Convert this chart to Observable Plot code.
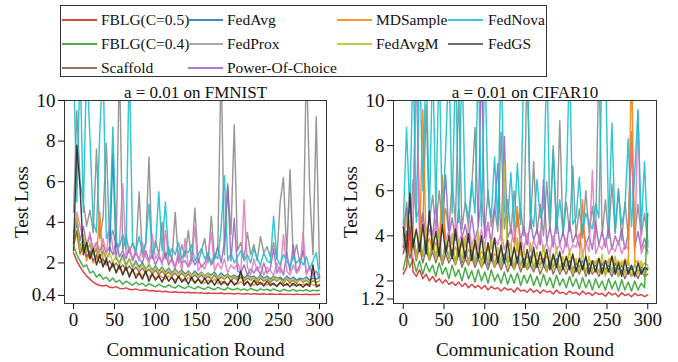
<!DOCTYPE html>
<html>
<head>
<meta charset="utf-8">
<script src="https://cdn.jsdelivr.net/npm/d3@7"></script>
<script src="https://cdn.jsdelivr.net/npm/@observablehq/plot@0.6"></script>
<style>
  html, body { margin: 0; padding: 0; background: #fff; }
  #wrap { position: relative; width: 678px; height: 362px; font-family: "Liberation Serif", "Times New Roman", serif; color: #111; overflow: hidden; }
  #legend { position: absolute; left: 60px; top: 5px; width: 487px; height: 72px; border: 1px solid #333; box-sizing: border-box; }
  .lg-line { position: absolute; height: 1.5px; opacity: 0.85; }
  .lg-text { position: absolute; font-size: 15.5px; line-height: 18px; white-space: nowrap; }
  .panel { position: absolute; top: 85px; }
</style>
</head>
<body>
<div id="wrap">
  <div id="legend"></div>
  <div id="left" class="panel" style="left:0px"></div>
  <div id="right" class="panel" style="left:335px"></div>
</div>
<script>
// ---------------- data ----------------
const rounds = d3.range(0, 301, 4); // communication rounds sampled (76 points)
const xTicks = [0, 50, 100, 150, 200, 250, 300];
const fmYTicks = [0.4, 2, 4, 6, 8, 10];
const cfYTicks = [1.2, 2, 4, 6, 8, 10];

const legendNames = ["FBLG(C=0.5)", "FedAvg", "MDSample", "FedNova",
                     "FBLG(C=0.4)", "FedProx", "FedAvgM", "FedGS",
                     "Scaffold", "Power-Of-Choice"];
const legendColors = ["#d62728", "#1f77b4", "#ff7f0e", "#17becf",
                      "#2ca02c", "#9a9a9a", "#bcbd22", "#555555",
                      "#8c564b", "#9467bd"];
const extraName = "extra";          // pink curve drawn without legend entry
const extraColor = "#e377c2";

// FMNIST test loss
const fm_fblg05 = [2.5,2.1,1.8,1.55,1.35,1.2,1.05,0.95,0.9,0.86,
  0.9,0.8,0.78,0.83,0.74,0.72,0.77,0.7,0.68,0.72,
  0.66,0.65,0.69,0.62,0.64,0.6,0.62,0.58,0.6,0.57,
  0.55,0.58,0.54,0.56,0.53,0.55,0.52,0.54,0.51,0.53,
  0.5,0.52,0.5,0.51,0.49,0.52,0.48,0.5,0.49,0.47,
  0.5,0.48,0.47,0.49,0.46,0.48,0.47,0.46,0.48,0.45,
  0.47,0.46,0.45,0.47,0.44,0.46,0.45,0.44,0.46,0.45,
  0.44,0.46,0.43,0.45,0.44,0.46];
const fm_fblg04 = [2.9,2.4,2.1,1.8,1.9,1.5,1.6,1.3,1.45,1.2,
  1.3,1.1,1.25,1.05,1.15,0.95,1.1,1.0,0.9,1.05,
  0.92,1.0,0.85,0.98,0.9,0.82,0.95,0.85,0.8,0.92,
  0.82,0.76,0.9,0.8,0.74,0.86,0.78,0.72,0.84,0.75,
  0.7,0.82,0.74,0.68,0.8,0.72,0.66,0.78,0.7,0.68,
  0.75,0.66,0.72,0.64,0.74,0.68,0.62,0.72,0.66,0.7,
  0.63,0.72,0.65,0.6,0.7,0.64,0.62,0.7,0.6,0.66,
  0.62,0.68,0.6,0.66,0.63,0.65];
const fm_fedgs = [2.6,7.8,5.7,2.4,3.0,2.2,2.7,1.9,2.4,1.8,
  2.2,1.6,2.0,1.5,1.9,1.4,1.8,1.3,1.7,1.25,
  1.5,1.2,1.6,1.1,1.45,1.15,1.35,1.05,1.4,1.1,
  1.3,1.0,1.35,1.05,1.25,0.95,1.3,1.0,1.2,0.98,
  1.25,0.95,1.15,0.9,1.2,0.92,1.1,0.88,1.15,0.9,
  1.05,1.6,0.9,1.1,0.85,1.15,0.9,1.05,0.86,1.1,
  0.88,1.0,0.84,1.05,0.86,0.98,0.82,1.0,0.85,0.95,
  0.8,0.98,0.84,1.9,0.82,0.9];
const fm_fedprox = [4.5,9.5,6.0,5.0,3.8,4.6,3.5,7.6,3.2,4.2,
  7.9,3.0,3.6,2.8,12,2.6,3.4,2.5,3.0,2.4,
  5.5,2.3,2.9,7.2,2.2,3.1,2.4,4.0,2.2,2.8,
  2.1,4.5,2.0,2.9,2.3,3.6,2.1,4.7,2.0,2.6,
  3.2,2.0,4.3,2.2,2.8,12,2.4,5.9,3.4,8.8,
  2.6,3.0,2.2,3.5,2.4,2.9,2.1,3.3,2.5,2.8,
  2.3,3.0,2.2,5.0,6.2,2.4,6.6,2.2,2.9,2.0,
  2.6,12,5.6,2.4,9.2,1.7];
const fm_fednova = [12,5.0,12,4.5,12,8.2,4.0,3.5,8.4,12,
  3.2,3.6,8.7,3.0,2.8,3.4,2.7,12,3.0,2.6,
  3.3,2.5,3.0,4.9,2.4,2.8,5.5,2.6,5.0,2.3,
  2.7,2.4,3.0,2.2,2.6,2.5,2.9,2.1,2.4,2.7,
  2.2,2.5,2.0,2.4,2.2,3.7,6.3,2.1,2.5,2.0,
  2.3,2.6,2.1,2.4,2.0,2.7,2.2,1.9,2.5,2.1,
  2.0,4.3,2.2,1.9,2.4,2.1,1.8,2.3,2.0,2.2,
  1.9,2.3,1.7,2.1,2.5,1.3];
const fm_extra = [3.0,4.5,3.8,3.2,2.8,3.5,2.6,3.0,2.5,3.2,
  2.4,4.0,2.7,2.3,3.0,5.9,2.4,2.8,2.2,2.6,
  2.1,3.0,2.3,2.0,3.4,2.2,2.5,1.9,3.6,2.1,
  2.1,1.7,2.6,1.6,3.2,1.8,2.0,3.8,1.6,1.9,
  1.7,2.3,3.5,1.6,2.0,1.7,2.2,1.5,1.9,1.7,
  2.0,1.5,5.1,1.8,1.4,2.2,1.6,1.9,1.4,1.8,
  1.6,1.4,2.0,1.5,3.4,1.6,1.4,1.9,1.5,1.7,
  3.5,1.4,1.8,1.3,1.6,1.2];
const fm_poc = [3.5,4.2,3.1,3.8,2.9,3.3,2.7,3.0,2.6,2.9,
  2.5,2.8,2.4,3.1,2.3,2.6,2.2,2.7,2.1,2.5,
  2.2,2.0,2.6,2.1,2.4,1.9,2.3,2.0,2.5,1.9,
  2.2,1.8,2.4,2.0,2.1,1.8,2.3,1.9,2.2,1.8,
  2.0,2.4,1.9,2.2,2.8,2.0,3.0,5.8,2.1,4.2,
  1.6,1.5,1.9,1.4,1.7,1.5,1.8,1.4,2.0,1.5,
  1.7,2.7,1.5,1.8,1.4,2.5,1.6,2.9,1.5,1.9,
  2.6,1.5,1.8,1.4,1.6,1.3];
const fm_mdsample = [2.8,3.5,2.4,2.9,2.1,2.5,2.0,2.2,4.5,1.9,
  2.1,1.7,1.9,1.6,1.8,1.5,1.7,1.45,1.6,1.4,
  1.55,1.35,1.5,1.3,1.45,1.25,1.4,1.3,1.2,1.35,
  1.25,1.15,1.3,1.2,1.1,1.28,1.15,1.05,1.2,1.1,
  1.0,1.15,1.05,1.2,0.98,1.1,1.0,0.95,1.12,1.0,
  0.95,1.08,0.92,1.05,0.98,0.9,1.06,0.94,1.0,0.9,
  1.02,0.92,0.88,1.0,0.94,0.9,1.04,0.88,0.96,0.9,
  0.95,0.88,1.0,0.9,0.94,0.92];
const fm_fedavgm = [3.0,4.3,2.6,3.4,2.5,3.0,2.4,2.8,2.2,2.7,
  2.1,2.5,2.0,2.4,1.9,2.3,1.8,2.2,1.75,2.0,
  1.7,1.9,1.6,2.0,1.55,1.8,1.5,1.75,1.45,1.7,
  1.4,1.65,1.45,1.6,1.35,1.55,1.4,1.5,1.3,1.55,
  1.3,1.5,1.25,1.45,1.3,1.4,1.2,1.45,1.25,1.35,
  1.2,1.4,1.15,1.35,1.2,1.3,1.1,1.35,1.15,1.25,
  1.1,1.3,1.15,1.2,1.05,1.25,1.1,1.2,1.05,1.15,
  1.1,1.2,1.0,1.15,1.05,1.1];
const fm_fedavg = [3.2,4.0,2.8,3.1,2.6,2.9,2.4,2.7,2.3,2.6,
  2.2,2.5,7.4,2.2,2.0,2.4,1.9,2.2,1.8,2.1,
  1.8,2.0,1.7,1.9,1.65,1.85,1.6,1.8,1.55,1.75,
  1.5,1.7,1.5,1.65,1.45,1.6,1.4,1.6,1.4,1.55,
  1.35,1.5,1.4,1.55,1.3,1.5,1.35,1.45,1.3,1.4,
  1.3,1.45,1.25,1.4,1.3,1.35,1.2,1.4,1.25,1.35,
  1.2,1.35,1.25,1.3,1.15,1.35,1.2,1.3,1.15,1.25,
  1.2,1.3,1.15,1.25,1.2,1.3];
const fm_scaffold = [2.9,3.6,2.5,2.9,2.3,2.6,2.1,2.4,2.0,2.2,
  1.9,2.1,1.8,2.0,1.7,1.9,1.65,1.85,1.6,1.8,
  1.55,1.75,1.5,1.7,1.45,1.65,1.4,1.6,1.4,1.55,
  1.35,1.5,1.3,1.5,1.3,1.45,1.25,1.4,1.25,1.4,
  1.2,1.35,1.2,1.4,1.15,1.3,1.2,1.35,1.1,1.3,
  1.15,1.3,1.1,1.25,1.15,1.3,1.05,1.25,1.1,1.2,
  1.05,1.2,1.1,1.25,1.0,1.2,1.05,1.15,1.0,1.2,
  1.05,1.15,1.0,1.1,1.05,1.1];

// CIFAR10 test loss
const cf_fblg05 = [2.3,2.6,4.4,2.4,2.2,2.5,2.1,2.3,2.0,2.2,
  1.95,2.1,1.9,2.05,1.85,1.95,1.8,1.95,1.75,1.9,
  1.7,1.85,1.7,1.8,1.65,1.8,1.6,1.75,1.65,1.7,
  1.55,1.7,1.6,1.65,1.5,1.7,1.55,1.6,1.5,1.65,
  1.5,1.6,1.45,1.6,1.5,1.55,1.42,1.6,1.45,1.5,
  1.4,1.55,1.45,1.5,1.38,1.55,1.42,1.48,1.35,1.5,
  1.4,1.45,1.32,1.5,1.38,1.45,1.3,1.48,1.35,1.42,
  1.3,1.45,1.35,1.4,1.3,1.38];
const cf_fblg04 = [2.5,3.2,2.6,3.0,2.4,2.9,2.3,2.8,2.4,2.7,
  2.2,2.8,2.3,2.6,2.1,2.7,2.2,2.5,2.0,2.6,
  2.1,2.45,1.95,2.5,2.0,2.4,1.9,2.5,2.0,2.3,
  1.9,2.4,1.85,2.3,1.9,2.35,1.8,2.25,1.9,2.3,
  1.8,2.2,1.75,2.3,1.8,2.15,1.7,2.25,1.8,2.1,
  1.7,2.2,1.75,2.1,1.65,2.15,1.7,2.05,1.6,2.1,
  1.7,2.0,1.6,2.1,1.65,2.0,1.55,2.05,1.6,1.95,
  1.55,2.0,1.6,1.9,1.7,5.0];
const cf_fedgs = [4.4,3.2,5.9,3.5,4.3,3.3,4.5,3.2,5.1,3.4,
  4.2,3.1,4.5,3.2,4.0,3.0,4.3,3.1,3.9,3.0,
  4.1,2.9,3.8,3.0,4.0,2.8,3.7,2.9,3.9,2.8,
  3.6,2.8,3.8,2.7,3.5,2.8,3.7,2.6,3.4,2.7,
  3.5,2.6,3.3,2.7,3.4,2.5,3.2,2.6,3.3,2.5,
  3.1,2.5,3.2,2.4,3.0,2.5,3.1,2.3,2.9,2.4,
  3.0,2.3,2.9,2.4,3.1,2.3,2.8,2.2,2.9,2.3,
  2.7,2.2,2.8,2.3,2.6,2.5];
const cf_fedavgm = [3.6,4.8,3.2,4.5,3.0,4.2,3.1,4.4,2.9,4.0,
  3.0,4.3,2.8,3.9,3.0,4.1,2.7,3.8,2.9,4.0,
  2.7,3.7,2.8,4.2,2.6,3.6,2.8,3.9,2.6,3.5,
  2.7,7.2,2.6,3.6,2.5,3.9,2.6,3.4,2.5,3.7,
  2.5,3.3,2.6,3.6,2.4,3.2,2.5,3.5,2.4,3.1,
  2.5,3.4,2.3,3.0,2.4,3.3,2.3,3.1,2.4,2.9,
  2.3,3.2,2.2,3.0,2.4,3.1,2.2,2.9,2.3,3.0,
  2.2,2.8,2.3,2.9,2.2,2.6];
const cf_fednova = [4.5,8.8,5.0,12,4.6,12,6.0,12,4.8,12,
  5.2,12,4.5,7.8,12,5.0,12,4.6,12,5.5,
  4.8,6.4,5.0,12,4.4,12,5.6,4.8,7.5,4.5,
  12,5.2,4.6,6.8,4.4,7.2,4.5,12,12,5.0,
  4.4,6.5,4.8,5.2,12,4.6,7.8,4.3,5.6,4.2,
  6.0,12,4.5,4.8,6.6,4.2,5.0,4.6,4.3,5.4,
  4.8,12,12,4.4,9.0,4.2,6.0,4.5,5.2,8.3,
  4.4,6.8,9.6,4.3,7.3,3.5];
const cf_fedprox = [4.0,5.5,4.2,6.5,4.8,5.2,4.4,9.8,4.6,5.8,
  4.3,6.0,4.5,5.2,4.2,6.4,4.6,10.5,4.3,5.5,
  4.4,6.1,8.8,4.5,5.6,4.2,6.0,4.4,5.3,4.2,
  8.6,4.3,5.6,4.1,6.0,4.4,5.2,4.0,12,4.3,
  7.3,4.1,5.4,4.0,6.4,4.2,8.0,4.1,9.1,4.0,
  5.5,4.2,7.1,4.0,5.2,3.9,6.0,4.1,5.3,3.9,
  12,4.0,5.6,3.9,6.3,4.1,6.1,3.8,5.5,4.0,
  8.2,3.9,5.4,4.0,5.0,3.7];
const cf_poc = [3.8,5.2,4.0,4.6,12,4.2,5.0,3.9,4.7,4.0,
  5.4,3.8,4.5,6.7,4.0,4.8,3.8,5.2,3.9,4.5,
  3.7,4.9,3.8,4.4,12,3.9,4.6,3.7,5.1,7.2,
  3.8,8.4,3.9,4.3,3.7,5.0,3.8,4.4,3.6,4.7,
  3.8,4.3,3.6,6.5,3.7,4.4,3.5,4.8,3.6,4.2,
  3.5,4.6,3.7,4.1,3.5,4.5,3.6,4.0,3.4,4.6,
  3.6,4.2,3.5,4.4,3.4,4.0,3.6,4.3,3.4,4.1,
  8.6,3.5,4.2,3.4,3.9,3.3];
const cf_extra = [3.5,4.8,3.8,4.4,12,4.0,4.6,3.7,4.3,3.9,
  4.5,3.6,5.2,3.8,4.2,3.6,4.6,3.7,4.1,3.5,
  4.4,3.6,4.0,3.4,4.3,3.5,4.6,3.4,3.9,3.6,
  4.2,3.4,3.8,3.5,4.5,3.3,3.9,3.4,4.1,3.3,
  3.8,3.4,4.2,3.3,3.7,3.2,4.0,3.4,3.6,3.2,
  3.9,3.3,3.6,3.5,4.1,3.2,3.7,3.3,6.9,3.2,
  3.6,3.4,3.9,3.2,3.5,3.3,3.8,3.2,3.6,3.4,
  8.6,3.3,9.5,3.2,3.6,3.2];
const cf_mdsample = [3.3,4.0,3.4,3.8,3.2,3.6,9.6,3.5,3.9,3.3,
  3.7,3.2,6.7,3.4,3.6,3.1,3.5,3.2,3.7,3.0,
  3.4,3.1,3.6,3.0,3.3,3.1,3.5,2.9,3.2,3.0,
  3.4,2.9,3.1,3.0,3.3,5.3,3.2,2.9,3.1,2.8,
  3.2,2.9,3.0,2.8,3.1,2.9,3.0,2.8,3.2,2.7,
  3.0,2.8,3.1,2.7,2.9,5.6,3.0,2.7,2.9,2.8,
  3.0,2.7,2.9,2.8,3.1,2.7,2.9,2.6,3.0,2.7,
  12,2.8,2.9,2.6,2.8,2.7];
const cf_fedavg = [3.5,4.2,3.3,3.9,3.2,3.7,3.1,3.8,3.0,3.6,
  3.1,3.5,2.9,3.6,3.0,3.4,2.9,3.5,2.8,3.3,
  2.9,3.4,2.8,3.2,2.9,3.3,2.7,3.2,2.8,3.1,
  2.7,3.2,2.8,3.0,2.6,3.1,2.7,3.0,2.6,3.1,
  2.6,2.9,2.7,3.0,2.5,2.9,2.6,3.0,2.5,2.8,
  2.6,2.9,2.5,2.8,2.6,2.9,2.4,2.8,2.5,2.7,
  2.4,2.8,2.5,2.7,2.4,2.8,2.5,2.7,2.4,2.6,
  2.5,2.7,2.4,2.6,2.5,2.6];
const cf_scaffold = [3.2,3.8,3.0,3.6,2.9,3.5,2.8,3.4,2.9,3.3,
  2.8,3.3,2.7,3.2,2.8,3.1,2.7,3.2,2.6,3.0,
  2.7,3.1,2.6,3.0,2.6,2.9,2.5,3.0,2.6,2.9,
  2.5,2.9,2.4,2.8,2.5,2.9,2.4,2.8,2.5,2.7,
  2.4,2.8,2.3,2.7,2.4,2.8,2.3,2.7,2.3,2.6,
  2.3,2.7,2.2,2.6,2.3,2.7,2.2,2.6,2.3,2.5,
  2.2,2.6,2.3,2.5,2.2,2.6,2.2,2.5,2.1,2.5,
  2.2,2.4,2.1,2.5,2.2,2.3];

// ---------------- build ----------------
const colorOf = Object.fromEntries(legendNames.map((n, i) => [n, legendColors[i]]));
colorOf[extraName] = extraColor;
colorOf["FedProx"] = "#8a8a8a";
colorOf["FedGS"] = "#262626";

const drawOrder = ["FedProx", "Power-Of-Choice", extraName, "MDSample", "FedAvg",
                   "Scaffold", "FedNova", "FedAvgM", "FedGS", "FBLG(C=0.4)", "FBLG(C=0.5)"];

const fmSeries = {"FBLG(C=0.5)": fm_fblg05, "FedAvg": fm_fedavg, "MDSample": fm_mdsample,
  "FedNova": fm_fednova, "FBLG(C=0.4)": fm_fblg04, "FedProx": fm_fedprox, "FedAvgM": fm_fedavgm,
  "FedGS": fm_fedgs, "Scaffold": fm_scaffold, "Power-Of-Choice": fm_poc, [extraName]: fm_extra};
const cfSeries = {"FBLG(C=0.5)": cf_fblg05, "FedAvg": cf_fedavg, "MDSample": cf_mdsample,
  "FedNova": cf_fednova, "FBLG(C=0.4)": cf_fblg04, "FedProx": cf_fedprox, "FedAvgM": cf_fedavgm,
  "FedGS": cf_fedgs, "Scaffold": cf_scaffold, "Power-Of-Choice": cf_poc, [extraName]: cf_extra};

function panel(series, opts) {
  const marks = drawOrder.map(name => {
    const vals = series[name];
    const rows = rounds.map((r, i) => ({round: r, loss: vals[i]})).filter(d => d.loss != null);
    return Plot.line(rows, {x: "round", y: "loss", stroke: colorOf[name],
      strokeWidth: 1.45, strokeOpacity: 0.88, clip: true});
  });
  marks.push(Plot.frame({stroke: "#333", strokeWidth: 1}));
  marks.push(Plot.text([opts.title], {frameAnchor: "top", dy: -8, lineAnchor: "middle",
    fontSize: 17, text: d => d}));
  marks.push(Plot.text(["Test Loss"], {frameAnchor: "left", dx: -43, rotate: -90,
    lineAnchor: "middle", textAnchor: "middle", fontSize: 19, text: d => d}));
  marks.push(Plot.text(["Communication Round"], {frameAnchor: "bottom", dy: 46,
    lineAnchor: "middle", fontSize: 19, text: d => d}));
  return Plot.plot({
    width: opts.width, height: 277,
    marginLeft: opts.ml, marginRight: opts.mr, marginTop: 15, marginBottom: 59,
    style: {fontFamily: "'Liberation Serif', 'Times New Roman', serif", fontSize: "19px",
            background: "transparent", color: "#111", overflow: "visible"},
    x: {domain: opts.xdom, ticks: xTicks, tickSize: 6, tickPadding: 3, label: null},
    y: {domain: opts.ydom, ticks: opts.yticks, tickSize: 6, tickPadding: 3, label: null,
        tickFormat: d => String(d)},
    marks
  });
}

document.getElementById("left").append(panel(fmSeries, {
  title: "a = 0.01 on FMNIST", width: 340, ml: 64, mr: 14,
  xdom: [-11, 308.5], ydom: [0, 10], yticks: fmYTicks}));
document.getElementById("right").append(panel(cfSeries, {
  title: "a = 0.01 on CIFAR10", width: 343, ml: 58, mr: 22,
  xdom: [-12, 310.7], ydom: [1, 10], yticks: cfYTicks}));

// legend
const legend = document.getElementById("legend");
const colLine = [1, 127, 276, 387];
const colText = [40, 166, 315, 427];
const rowY = [14, 38, 62];
legendNames.forEach((name, i) => {
  const col = i % 4, row = Math.floor(i / 4);
  const ln = document.createElement("div");
  ln.className = "lg-line";
  ln.style.left = colLine[col] + "px";
  ln.style.width = "35px";
  ln.style.top = (rowY[row] - 1) + "px";
  ln.style.backgroundColor = legendColors[i];
  legend.append(ln);
  const tx = document.createElement("div");
  tx.className = "lg-text";
  tx.style.left = colText[col] + "px";
  tx.style.top = (rowY[row] - 9) + "px";
  tx.textContent = name;
  legend.append(tx);
});
</script>
</body>
</html>
